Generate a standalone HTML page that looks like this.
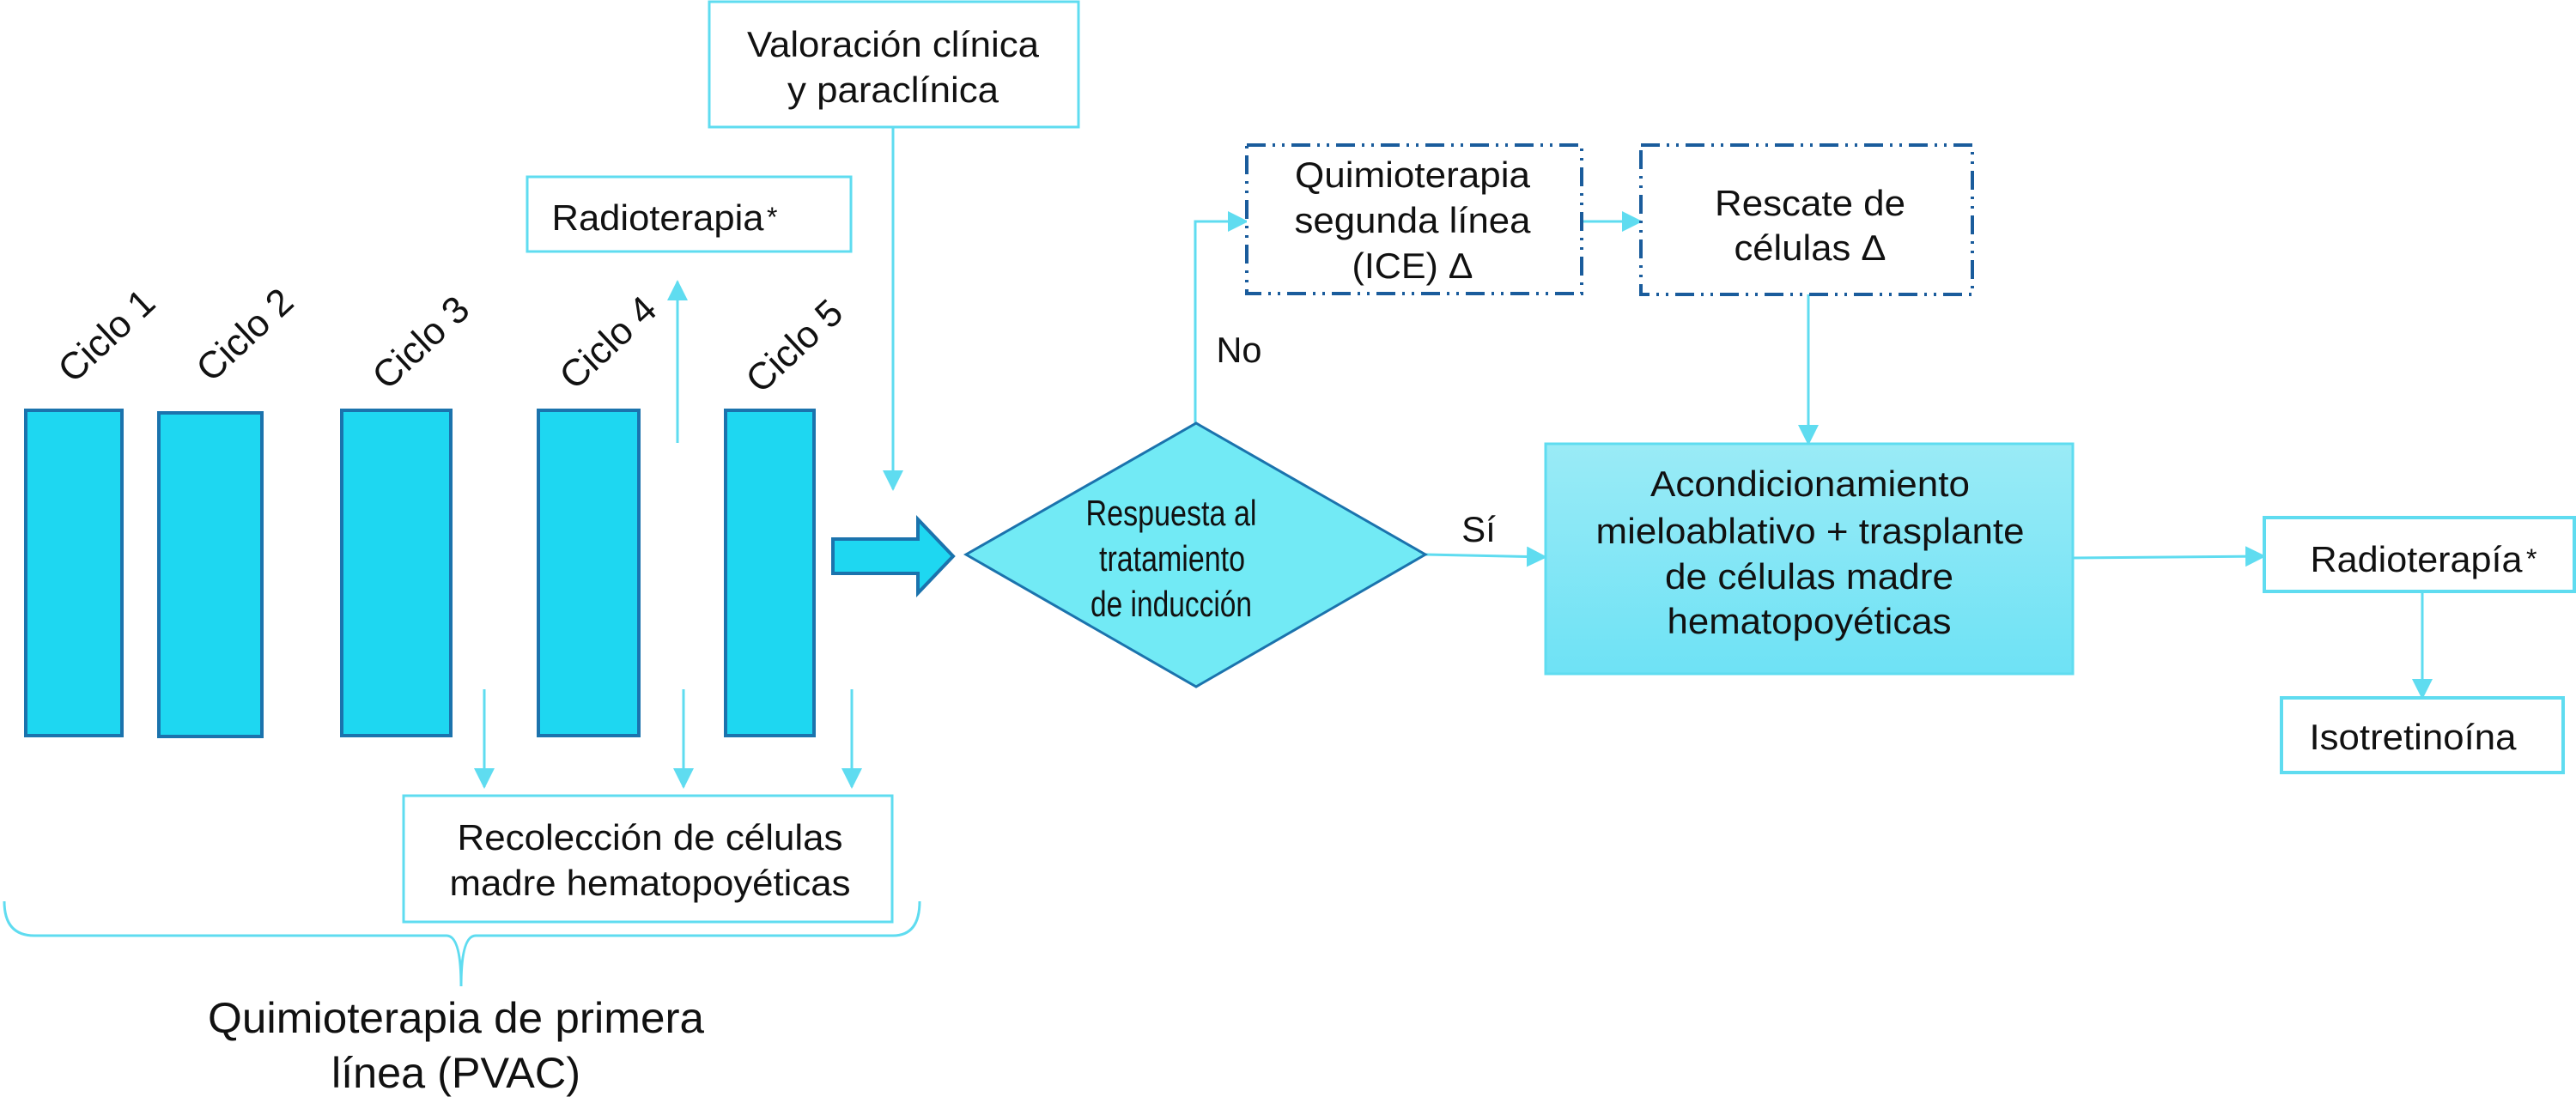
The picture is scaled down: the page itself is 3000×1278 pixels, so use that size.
<!DOCTYPE html>
<html><head><meta charset="utf-8"><style>html,body{margin:0;padding:0;background:#fff}svg{display:block}</style></head>
<body>
<svg width="3000" height="1278" viewBox="0 0 3000 1278" xmlns="http://www.w3.org/2000/svg" font-family="Liberation Sans, sans-serif" fill="#111">
<defs>
<linearGradient id="g" x1="0" y1="0" x2="0" y2="1"><stop offset="0" stop-color="#9aebf6"/><stop offset="1" stop-color="#6ee2f5"/></linearGradient>
<marker id="b" markerWidth="24" markerHeight="24" refX="22" refY="12" orient="auto" markerUnits="userSpaceOnUse" viewBox="0 0 24 24"><path d="M0,0 L24,12 L0,24 z" fill="#5fdcf0"/></marker>
</defs>
<g stroke="#5fdcf0" stroke-width="3" fill="#fff">
<rect x="826" y="2" width="430" height="146"/>
<rect x="614" y="206" width="377" height="87"/>
<rect x="470" y="927" width="569" height="147"/>
<rect x="2637" y="603" width="361" height="86" stroke-width="4"/>
<rect x="2657" y="813" width="328" height="87" stroke-width="4"/>
</g>
<g fill="none" stroke="#5fdcf0" stroke-width="3">
<line x1="789" y1="516" x2="789" y2="328" marker-end="url(#b)"/>
<line x1="1040" y1="148" x2="1040" y2="570" marker-end="url(#b)"/>
<line x1="564" y1="803" x2="564" y2="917" marker-end="url(#b)"/>
<line x1="796" y1="803" x2="796" y2="917" marker-end="url(#b)"/>
<line x1="992" y1="803" x2="992" y2="917" marker-end="url(#b)"/>
<polyline points="1392,493 1392,258 1452,258" marker-end="url(#b)"/>
<line x1="1842" y1="258" x2="1911" y2="258" marker-end="url(#b)"/>
<line x1="2106" y1="343" x2="2106" y2="517" marker-end="url(#b)"/>
<line x1="1660" y1="646" x2="1800" y2="649" marker-end="url(#b)"/>
<line x1="2414" y1="650" x2="2637" y2="648" marker-end="url(#b)"/>
<line x1="2821" y1="689" x2="2821" y2="813" marker-end="url(#b)"/>
<path d="M5,1050 Q5,1090 40,1090 L520,1090 Q537,1090 537,1149 Q537,1090 554,1090 L1040,1090 Q1071,1090 1071,1050"/>
</g>
<g fill="#1ed7f1" stroke="#1b73ad" stroke-width="4">
<rect x="30" y="478" width="112" height="379"/>
<rect x="185" y="481" width="120" height="377"/>
<rect x="398" y="478" width="127" height="379"/>
<rect x="627" y="478" width="117" height="379"/>
<rect x="845" y="478" width="103" height="379"/>
<path d="M970,628 L1069,628 L1069,605 L1110,648 L1069,691 L1069,668 L970,668 z"/>
</g>
<path d="M1125,646 L1393,493 L1660,646 L1393,800 z" fill="#72eaf5" stroke="#1b73ad" stroke-width="3"/>
<rect x="1800" y="517" width="614" height="268" fill="url(#g)" stroke="#5fdcf0" stroke-width="3"/>
<g fill="#fff" stroke="#1a5c9c" stroke-width="4" stroke-dasharray="22,8,3,8,3,8">
<rect x="1452" y="169" width="390" height="173"/>
<rect x="1911" y="169" width="386" height="174"/>
</g>
<g font-size="42" text-anchor="middle">
<text x="1040" y="66" textLength="340" lengthAdjust="spacingAndGlyphs">Valoración clínica</text>
<text x="1040" y="119" textLength="246" lengthAdjust="spacingAndGlyphs">y paraclínica</text>
<text x="766" y="268" textLength="247" lengthAdjust="spacingAndGlyphs">Radioterapia</text>
<text x="757" y="990" textLength="449" lengthAdjust="spacingAndGlyphs">Recolección de células</text>
<text x="757" y="1043" textLength="467" lengthAdjust="spacingAndGlyphs">madre hematopoyéticas</text>
<text x="1364" y="612" textLength="199" lengthAdjust="spacingAndGlyphs">Respuesta al</text>
<text x="1365" y="665" textLength="170" lengthAdjust="spacingAndGlyphs">tratamiento</text>
<text x="1364" y="718" textLength="188" lengthAdjust="spacingAndGlyphs">de inducción</text>
<text x="1443" y="422" textLength="53" lengthAdjust="spacingAndGlyphs">No</text>
<text x="1722" y="631">Sí</text>
<text x="1645" y="218" textLength="274" lengthAdjust="spacingAndGlyphs">Quimioterapia</text>
<text x="1645" y="271" textLength="275" lengthAdjust="spacingAndGlyphs">segunda línea</text>
<text x="1645" y="324" textLength="141" lengthAdjust="spacingAndGlyphs">(ICE) Δ</text>
<text x="2108" y="251" textLength="222" lengthAdjust="spacingAndGlyphs">Rescate de</text>
<text x="2108" y="303" textLength="177" lengthAdjust="spacingAndGlyphs">células Δ</text>
<text x="2108" y="578" textLength="372" lengthAdjust="spacingAndGlyphs">Acondicionamiento</text>
<text x="2108" y="633" textLength="499" lengthAdjust="spacingAndGlyphs">mieloablativo + trasplante</text>
<text x="2107" y="686" textLength="336" lengthAdjust="spacingAndGlyphs">de células madre</text>
<text x="2107" y="738" textLength="331" lengthAdjust="spacingAndGlyphs">hematopoyéticas</text>
<text x="2814" y="666" textLength="247" lengthAdjust="spacingAndGlyphs">Radioterapía</text>
<text x="2810" y="873" textLength="241" lengthAdjust="spacingAndGlyphs">Isotretinoína</text>
<text x="531" y="1203" font-size="50" textLength="578" lengthAdjust="spacingAndGlyphs">Quimioterapia de primera</text>
<text x="531" y="1267" font-size="50" textLength="290" lengthAdjust="spacingAndGlyphs">línea (PVAC)</text>
</g>
<g font-size="32"><text x="893" y="264">*</text><text x="2942" y="662">*</text></g>
<g font-size="44" text-anchor="middle">
<text transform="translate(124,391) rotate(-43)" y="15">Ciclo 1</text>
<text transform="translate(285,390) rotate(-43)" y="15">Ciclo 2</text>
<text transform="translate(490,399) rotate(-43)" y="15">Ciclo 3</text>
<text transform="translate(708,399) rotate(-43)" y="15">Ciclo 4</text>
<text transform="translate(925,403) rotate(-43)" y="15">Ciclo 5</text>
</g>
</svg>
</body></html>
